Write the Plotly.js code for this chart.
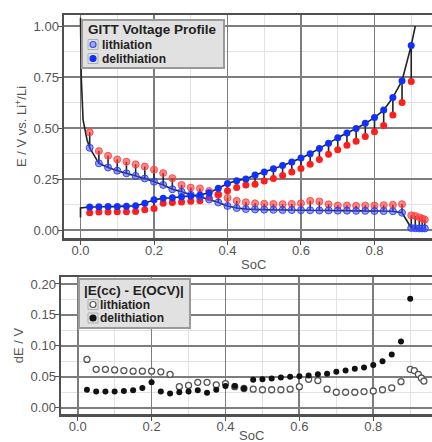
<!DOCTYPE html>
<html><head><meta charset="utf-8">
<script src="https://cdn.plot.ly/plotly-3.0.1.min.js"></script>
<style>html,body{margin:0;padding:0;overflow:hidden;background:#fff}</style>
</head><body><div id="chart" style="width:442px;height:442px"></div>
<script>
// ---- Lithiation (discharge) GITT steps ----
const liSoc = [0.025,0.05,0.075,0.10,0.125,0.15,0.175,0.20,0.225,0.25,0.275,0.30,0.325,0.35,0.375,0.40,0.425,0.45,0.475,0.50,0.525,0.55,0.575,0.60,0.625,0.65,0.675,0.70,0.725,0.75,0.775,0.80,0.825,0.85,0.875,0.90,0.911,0.922,0.930,0.937];
const liCC  = [0.403,0.327,0.307,0.291,0.278,0.265,0.253,0.237,0.221,0.200,0.188,0.173,0.163,0.150,0.135,0.118,0.108,0.103,0.101,0.100,0.099,0.098,0.098,0.097,0.097,0.096,0.096,0.095,0.095,0.094,0.094,0.093,0.093,0.092,0.085,0.010,0.009,0.008,0.008,0.008];
const liOCV = [0.479,0.387,0.364,0.346,0.335,0.322,0.311,0.296,0.279,0.254,0.221,0.208,0.204,0.191,0.172,0.157,0.143,0.136,0.131,0.129,0.128,0.127,0.128,0.131,0.143,0.140,0.126,0.120,0.120,0.119,0.120,0.120,0.122,0.124,0.127,0.072,0.069,0.062,0.056,0.051];
const liStartSoc = [0.0,0.002,0.007,0.018];
const liStartV   = [1.04,0.75,0.54,0.44];

// ---- Delithiation (charge) GITT steps ----
const deSoc = [0.025,0.05,0.075,0.10,0.125,0.15,0.175,0.20,0.225,0.25,0.275,0.30,0.325,0.35,0.375,0.40,0.425,0.45,0.475,0.50,0.525,0.55,0.575,0.60,0.625,0.65,0.675,0.70,0.725,0.75,0.775,0.80,0.825,0.85,0.875,0.90];
const deCC  = [0.113,0.114,0.115,0.116,0.117,0.119,0.131,0.148,0.156,0.158,0.163,0.167,0.172,0.183,0.205,0.228,0.242,0.250,0.270,0.285,0.300,0.316,0.334,0.353,0.374,0.400,0.426,0.452,0.476,0.498,0.523,0.551,0.588,0.650,0.732,0.905];
const deOCV = [0.085,0.088,0.089,0.090,0.090,0.091,0.099,0.106,0.131,0.135,0.138,0.141,0.144,0.159,0.176,0.193,0.208,0.221,0.225,0.240,0.253,0.267,0.284,0.302,0.322,0.346,0.371,0.394,0.416,0.435,0.458,0.482,0.513,0.564,0.625,0.728];
const deStartSoc = [0.0,0.0];
const deStartV   = [0.062,0.108];
const deEndSoc = [0.911];
const deEndV   = [1.0];

// ---- |E(cc) - E(OCV)| ----
const dLiSoc = liSoc;
const dLi = [0.078,0.062,0.062,0.061,0.060,0.059,0.059,0.059,0.058,0.054,0.034,0.036,0.041,0.041,0.037,0.039,0.034,0.031,0.030,0.029,0.029,0.029,0.030,0.034,0.046,0.044,0.030,0.025,0.025,0.025,0.026,0.027,0.029,0.032,0.042,0.062,0.060,0.054,0.048,0.043];
const dDeSoc = deSoc;
const dDe = [0.029,0.026,0.026,0.026,0.027,0.028,0.032,0.041,0.026,0.023,0.025,0.026,0.028,0.024,0.029,0.035,0.035,0.031,0.045,0.046,0.047,0.049,0.050,0.051,0.052,0.054,0.055,0.058,0.060,0.063,0.065,0.069,0.075,0.086,0.107,0.176];

// legend / title texts
const topLegendTitle = 'GITT Voltage Profile';
const botLegendTitle = '|E(cc) - E(OCV)|';
const seriesNames = ['lithiation', 'delithiation'];

function gittPath(sx, sy, soc, cc, ocv, ex, ey) {
  const x = sx.slice(), y = sy.slice();
  for (let i = 0; i < soc.length; i++) {
    x.push(soc[i], soc[i], soc[i]);
    y.push(cc[i], ocv[i], cc[i]);
  }
  return {x: x.concat(ex), y: y.concat(ey)};
}
const liPath = gittPath(liStartSoc, liStartV, liSoc, liCC, liOCV, [], []);
const dePath = gittPath(deStartSoc, deStartV, deSoc, deCC, deOCV, deEndSoc, deEndV);

const MS = 7;
const liBlue = {color: 'rgba(60,80,255,0.55)', line: {color: 'rgba(40,60,255,0.9)', width: 1}};
const deBlue = {color: '#1030ff', line: {width: 0}};
const traces = [
  {x: liPath.x, y: liPath.y, mode: 'lines', line: {color: '#222', width: 1.6}, showlegend: false, hoverinfo: 'skip'},
  {x: dePath.x, y: dePath.y, mode: 'lines', line: {color: '#222', width: 1.6}, showlegend: false, hoverinfo: 'skip'},
  {x: liSoc, y: liOCV, mode: 'markers', showlegend: false,
   marker: {size: MS, color: 'rgba(255,50,50,0.6)', line: {color: 'rgba(255,70,70,0.9)', width: 1}}},
  {x: deSoc, y: deOCV, mode: 'markers', showlegend: false,
   marker: {size: MS, color: '#ff1e1e', line: {width: 0}}},
  {x: liSoc, y: liCC, mode: 'markers', name: seriesNames[0], showlegend: false,
   marker: Object.assign({size: MS}, liBlue)},
  {x: deSoc, y: deCC, mode: 'markers', name: seriesNames[1], showlegend: false,
   marker: Object.assign({size: MS}, deBlue)},
  {x: dLiSoc, y: dLi, mode: 'markers', name: seriesNames[0], xaxis: 'x2', yaxis: 'y2', showlegend: false,
   marker: {size: 6, color: '#fff', line: {color: '#555', width: 1.3}}},
  {x: dDeSoc, y: dDe, mode: 'markers', name: seriesNames[1], xaxis: 'x2', yaxis: 'y2', showlegend: false,
   marker: {size: 6, color: '#111', line: {width: 0}}}
];

// pixel -> paper helpers for layout decorations
const ML = 61, MT = 15, MB = 28, W = 442, H = 442;
const PW = W - ML, PH = H - MT - MB;
const px = v => (v - ML) / PW;
const py = v => (H - MB - v) / PH;

const gridMajor = '#7d7d7d', gridMinor = '#e2e2e2';
function xAx(extra) {
  return Object.assign({
    dtick: 0.2, tick0: 0, tickformat: '.1f', showgrid: true, gridcolor: gridMajor, gridwidth: 1.8,
    minor: {dtick: 0.1, tick0: 0, showgrid: true, gridcolor: gridMinor, gridwidth: 1},
    showline: true, mirror: true, linecolor: '#505050', linewidth: 2.5, zeroline: false,
    ticks: 'outside', ticklen: 4, tickcolor: '#505050', automargin: false, ticklabelstandoff: -5
  }, extra);
}
function yAx(extra) {
  return Object.assign({
    tickformat: '.2f', showgrid: true, gridcolor: gridMajor, gridwidth: 1.8,
    showline: true, mirror: true, linecolor: '#505050', linewidth: 2.5, zeroline: false,
    ticks: 'outside', ticklen: 4, tickcolor: '#505050', automargin: false, ticklabelstandoff: -4
  }, extra);
}

function legendBox(x0, y0, x1, y1, title, titleX, titleY, items) {
  const shapes = [{type: 'rect', xref: 'paper', yref: 'paper', x0: px(x0), x1: px(x1), y0: py(y1), y1: py(y0),
    fillcolor: '#e1e1e1', line: {color: '#9a9a9a', width: 2}, layer: 'above'}];
  const annos = [{xref: 'paper', yref: 'paper', x: px(titleX), y: py(titleY), xanchor: 'left', yanchor: 'middle',
    text: '<b>' + title + '</b>', showarrow: false, font: {size: 13.5, color: '#222'}}];
  items.forEach(it => {
    shapes.push({type: 'rect', xref: 'paper', yref: 'paper', x0: px(it.bx - 5), x1: px(it.bx + 5),
      y0: py(it.y + 5), y1: py(it.y - 5), fillcolor: 'rgba(0,0,0,0)', line: {color: '#b0b0b0', width: 1}, layer: 'above'});
    shapes.push({type: 'circle', xref: 'paper', yref: 'paper', x0: px(it.bx - 3), x1: px(it.bx + 3),
      y0: py(it.y + 3), y1: py(it.y - 3), fillcolor: it.fill, line: {color: it.line, width: 1.2}, layer: 'above'});
    annos.push({xref: 'paper', yref: 'paper', x: px(it.tx), y: py(it.y), xanchor: 'left', yanchor: 'middle',
      text: '<b>' + it.text + '</b>', showarrow: false, font: {size: 12, color: '#222'}});
  });
  return {shapes, annos};
}
const lg1 = legendBox(82, 20, 224, 68, topLegendTitle, 86, 29.5, [
  {bx: 93, tx: 99.5, y: 44.5, text: seriesNames[0], fill: 'rgba(120,135,255,0.6)', line: '#3050ff'},
  {bx: 93, tx: 99.5, y: 58.5, text: seriesNames[1], fill: '#1030ff', line: '#1030ff'}
]);
const lg2 = legendBox(79, 279, 190, 328, botLegendTitle, 82, 290, [
  {bx: 93, tx: 97.5, y: 304.5, text: seriesNames[0], fill: '#ffffff', line: '#555'},
  {bx: 93, tx: 97.5, y: 318, text: seriesNames[1], fill: '#111', line: '#111'}
]);

const axisTitleFont = {size: 13, color: '#555'};
const layout = {
  width: W, height: H,
  margin: {l: ML, r: 0, t: MT, b: MB},
  paper_bgcolor: '#fff', plot_bgcolor: '#fff', showlegend: false,
  font: {family: 'Liberation Sans, Arial, sans-serif', size: 13, color: '#555'},
  xaxis: xAx({domain: [px(64), 1], range: [-0.0449, 0.9837], anchor: 'y'}),
  yaxis: yAx({domain: [py(238), py(15)], range: [-0.039, 1.054], dtick: 0.25, tick0: 0, anchor: 'x',
    minor: {dtick: 0.125, tick0: 0, showgrid: true, gridcolor: gridMinor, gridwidth: 1},
    title: {text: 'E / V vs. Li<sup>+</sup>/Li', font: axisTitleFont, standoff: 4}}),
  xaxis2: xAx({domain: [0, 1], range: [-0.0452, 0.986], anchor: 'y2'}),
  yaxis2: yAx({domain: [0, py(277)], range: [-0.0102, 0.2113], dtick: 0.05, tick0: 0, anchor: 'x2',
    minor: {dtick: 0.025, tick0: 0, showgrid: true, gridcolor: gridMinor, gridwidth: 1},
    title: {text: 'dE / V', font: axisTitleFont, standoff: 4}}),
  shapes: lg1.shapes.concat(lg2.shapes),
  annotations: lg1.annos.concat(lg2.annos).concat([
    {xref: 'paper', yref: 'paper', x: px(253), y: py(264), xanchor: 'center', yanchor: 'middle',
     text: 'SoC', showarrow: false, font: axisTitleFont},
    {xref: 'paper', yref: 'paper', x: px(251), y: py(435), xanchor: 'center', yanchor: 'middle',
     text: 'SoC', showarrow: false, font: axisTitleFont}
  ])
};

Plotly.newPlot('chart', traces, layout, {displayModeBar: false, staticPlot: true});
</script>
</body></html>
